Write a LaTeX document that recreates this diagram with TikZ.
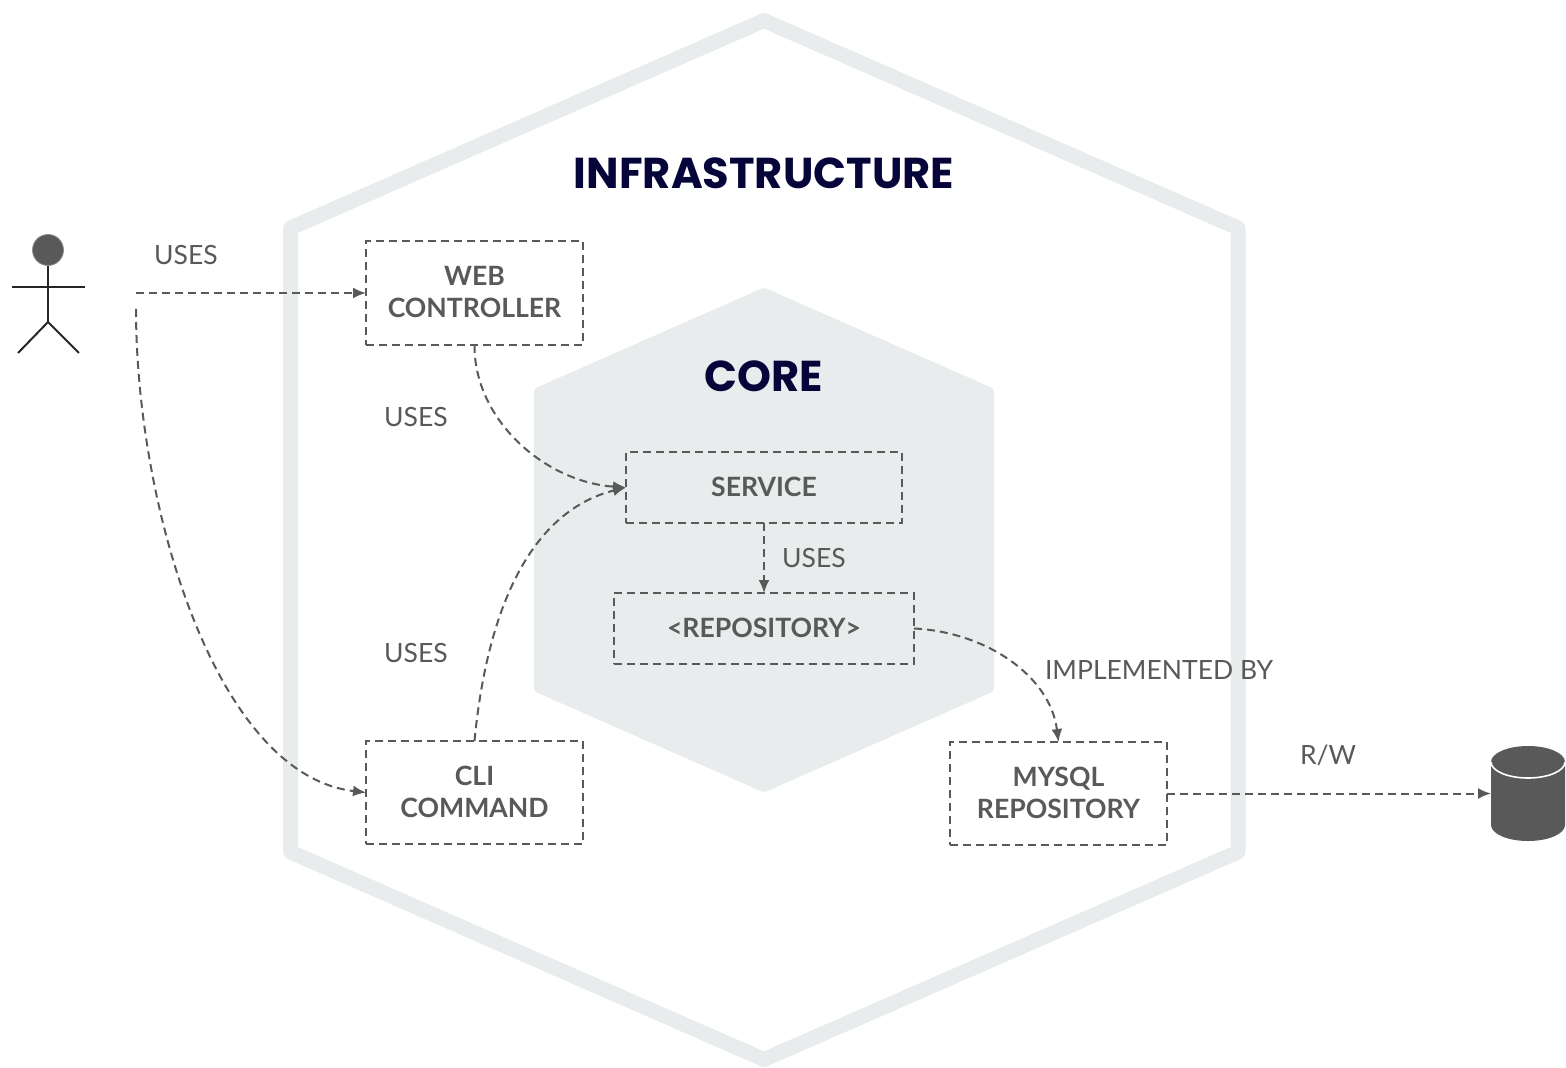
\documentclass[tikz,border=0pt]{standalone}
\usepackage{fontspec}
\setmainfont{Lato}
\newfontfamily\headfont{Poppins}
\usetikzlibrary{arrows.meta}
\usetikzlibrary{backgrounds}
\definecolor{band}{HTML}{E9ECED}
\definecolor{ink}{HTML}{595959}
\definecolor{navy}{HTML}{05053A}
\newcommand{\lift}[1]{\raisebox{1.1pt}{#1}}

\begin{document}
\begin{tikzpicture}[x=0.5pt, y=-0.5pt]
    \tikzstyle{component} = [draw=ink, line width=1pt, dash pattern=on 4pt off 2.5pt, outer sep=0pt, inner sep=0pt, align=center, text=ink, font=\fontsize{13.3}{16}\selectfont\bfseries];
    \tikzstyle{caption}   = [inner sep=0pt, text=ink, font=\fontsize{13.25}{16}\selectfont];
    \tikzstyle{layer}     = [inner sep=0pt, text=navy, font=\headfont\fontsize{21.6}{24}\selectfont\bfseries];
    \tikzstyle{uses}      = [ink, line width=1pt, dash pattern=on 4pt off 2.5pt, -{Latex[length=6.5pt,width=5.5pt]}];
    \tikzstyle{limb}      = [line width=1pt, black!85];

    \useasboundingbox (0,0) rectangle (1566,1068);

    %
    % Hexagons
    %
    \begin{scope}[on background layer]
        \draw[band, line width=7.5pt, line join=round] (764,20.5) -- (1238,228) -- (1238,852) -- (764,1059.5) -- (290.5,852) -- (290.5,228) -- cycle;
        \fill[band, draw=band, line width=5pt, line join=round] (764,293) -- (989,392) -- (989,688) -- (764,787) -- (539,688) -- (539,392) -- cycle;
    \end{scope}

    \node[layer] (infrastructure) at (764,173.5) {INFRASTRUCTURE};
    \node[layer] (core)           at (764,376.5) {CORE};

    %
    % Components
    %
    \node[component, minimum width=108.5pt, minimum height=52pt]   (web)     at (474.5,293)   {\lift{WEB}\\\lift{CONTROLLER}};
    \node[component, minimum width=108.5pt, minimum height=51.5pt] (cli)     at (474.5,792.5) {\lift{CLI}\\\lift{COMMAND}};
    \node[component, minimum width=138pt, minimum height=35.5pt]   (service) at (764,487.5)   {\lift{SERVICE}};
    \node[component, minimum width=150pt, minimum height=35.5pt]   (repo)    at (764,628.5)   {\lift{<REPOSITORY>}};
    \node[component, minimum width=108.5pt, minimum height=51.5pt] (mysql)   at (1058.5,793.5) {\lift{MYSQL}\\\lift{REPOSITORY}};

    %
    % Actor
    %
    \node[circle, fill=ink, draw=ink!70, line width=0.4pt, minimum size=15.5pt, inner sep=0pt] (head) at (48,250) {};
    \coordinate (hip)       at (48,322);
    \coordinate (arm-left)  at (12,287);
    \coordinate (arm-right) at (85,287);
    \coordinate (leg-left)  at (18,353);
    \coordinate (leg-right) at (79,353);
    \draw[limb] (head.south) -- (hip);
    \draw[limb] (arm-left) -- (arm-right);
    \draw[limb] (leg-left) -- (hip) -- (leg-right);

    % Free ends next to the actor
    \coordinate (actor-web) at (136,293);
    \coordinate (actor-cli) at (136,309);

    %
    % Database
    %
    \fill[ink] (1491,762) arc[start angle=180, end angle=360, x radius=37, y radius=16] -- (1565,825) arc[start angle=0, end angle=180, x radius=37, y radius=16] -- cycle;
    \draw[white, line width=0.8pt] (1491,762) arc[start angle=180, end angle=0, x radius=37, y radius=16];
    \node[minimum width=37pt, minimum height=47.5pt, inner sep=0pt, outer sep=0pt] (db) at (1528,793.5) {};

    %
    % Connectors
    %
    \draw[uses] (actor-web) -- (web.west);
    \draw[uses] (actor-cli) .. controls (136,505) and (215,775) .. (cli.west);
    \draw[uses] (web.south) .. controls (474,420) and (545,482) .. (service.west);
    \draw[uses] (cli.north) .. controls (488,600) and (535,510) .. (service.west);
    \draw[uses] (service.south) -- (repo.north);
    \draw[uses] (repo.east) .. controls (985,632) and (1050,675) .. (mysql.north);
    \draw[uses] (mysql.east) -- (db.west);

    %
    % Labels
    %
    \node[caption] (uses-actor)   at (186,255)  {USES};
    \node[caption] (uses-web)     at (416,417)  {USES};
    \node[caption] (uses-cli)     at (416,653)  {USES};
    \node[caption] (uses-service) at (814,558)  {USES};
    \node[caption] (implemented)  at (1159,670) {IMPLEMENTED BY};
    \node[caption] (rw)           at (1328,755) {R/W};
\end{tikzpicture}
\end{document}
